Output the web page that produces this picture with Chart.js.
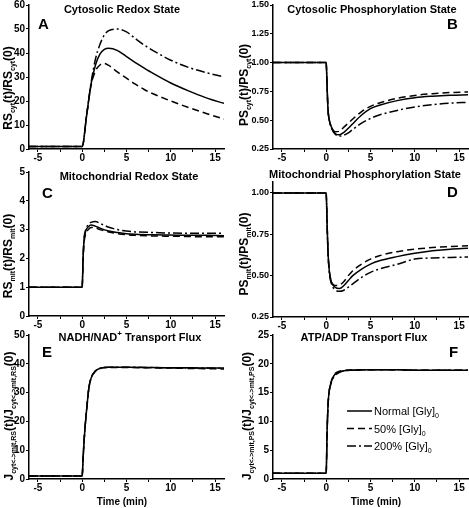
<!DOCTYPE html>
<html>
<head>
<meta charset="utf-8">
<script src="https://cdn.jsdelivr.net/npm/chart.js@4.4.0/dist/chart.umd.min.js"></script>
<style>
  html, body { margin: 0; padding: 0; background: #fff; overflow: hidden; }
  body { width: 469px; height: 508px; position: relative; }
  .panel { position: absolute; }
</style>
</head>
<body>
<script>
// ---------- data ----------
const timeTicks = [-5, -2.5, 0, 2.5, 5, 7.5, 10, 12.5, 15];

// A: cytosolic redox state
const timeA = [-6, 0, 0.5, 1, 1.5, 2, 2.5, 3, 4, 5, 6, 7, 8, 10, 12, 14, 16];
const aNormal = [1, 1, 14, 27, 35, 39.5, 41.5, 42, 41, 38.5, 36, 33.7, 31.5, 27.5, 24.2, 21.3, 19];
const aHalf   = [1, 1, 14, 26.5, 32.5, 35, 35.6, 34.8, 32, 29.5, 27, 24.8, 23, 20, 17.3, 14.8, 12.5];
const aDouble = [1, 1, 14, 27.5, 37.5, 43.5, 47.5, 49.3, 50, 48.8, 46, 43.3, 41, 37, 34, 31.8, 30];
const ticksA = [0, 10, 20, 30, 40, 50, 60];

// B: cytosolic phosphorylation state
const timeB = [-6, 0, 0.1, 0.2, 0.35, 0.6, 1, 1.5, 2, 2.5, 3, 4, 5, 6, 8, 10, 12, 14, 16];
const bNormal = [1, 1, 0.8, 0.6, 0.5, 0.44, 0.385, 0.373, 0.395, 0.43, 0.47, 0.545, 0.6, 0.63, 0.67, 0.695, 0.708, 0.716, 0.72];
const bHalf   = [1, 1, 0.8, 0.6, 0.5, 0.44, 0.4, 0.405, 0.44, 0.475, 0.51, 0.575, 0.62, 0.65, 0.69, 0.715, 0.73, 0.74, 0.745];
const bDouble = [1, 1, 0.8, 0.6, 0.5, 0.43, 0.38, 0.362, 0.37, 0.39, 0.42, 0.475, 0.515, 0.545, 0.585, 0.615, 0.635, 0.648, 0.655];
const ticksB = [0.25, 0.5, 0.75, 1, 1.25, 1.5];

// C: mitochondrial redox state
const timeC = [-6, 0, 0.1, 0.2, 0.4, 0.7, 1, 1.5, 2, 3, 4, 5, 6, 8, 10, 12, 14, 16];
const cNormal = [1, 1, 2.0, 2.6, 2.95, 3.1, 3.16, 3.12, 3.05, 2.95, 2.9, 2.86, 2.84, 2.82, 2.81, 2.8, 2.8, 2.79];
const cHalf   = [1, 1, 1.9, 2.5, 2.85, 3.0, 3.07, 3.06, 3.0, 2.92, 2.86, 2.82, 2.8, 2.78, 2.77, 2.76, 2.75, 2.75];
const cDouble = [1, 1, 2.0, 2.65, 3.0, 3.18, 3.25, 3.28, 3.22, 3.08, 3.0, 2.95, 2.92, 2.9, 2.88, 2.87, 2.87, 2.87];
const ticksC = [0, 1, 2, 3, 4, 5];

// D: mitochondrial phosphorylation state
const timeD = [-6, 0, 0.1, 0.2, 0.35, 0.6, 1, 1.5, 2, 2.5, 3, 4, 5, 6, 8, 10, 12, 14, 16];
const dNormal = [1, 1, 0.82, 0.65, 0.53, 0.46, 0.43, 0.422, 0.44, 0.47, 0.5, 0.54, 0.57, 0.59, 0.615, 0.635, 0.65, 0.66, 0.665];
const dHalf   = [1, 1, 0.82, 0.65, 0.53, 0.465, 0.44, 0.443, 0.465, 0.5, 0.53, 0.57, 0.6, 0.62, 0.645, 0.66, 0.67, 0.676, 0.68];
const dDouble = [1, 1, 0.82, 0.65, 0.52, 0.45, 0.415, 0.405, 0.412, 0.43, 0.45, 0.49, 0.52, 0.54, 0.568, 0.6, 0.607, 0.61, 0.613];
const ticksD = [0.25, 0.5, 0.75, 1];

// E: NADH/NAD+ transport flux
const timeE = [-6, 0, 0.1, 0.2, 0.3, 0.5, 0.75, 1, 1.5, 2, 3, 5, 8, 10, 12, 14, 16];
const eNormal = [1, 1, 7, 12.5, 17, 24, 31.5, 35, 37.5, 38.4, 38.8, 38.8, 38.7, 38.6, 38.6, 38.5, 38.5];
const eHalf   = [1, 1, 7, 12.5, 17, 24, 31.5, 35, 37.5, 38.4, 38.7, 38.7, 38.6, 38.5, 38.4, 38.3, 38.2];
const eDouble = [1, 1, 7, 12.5, 17, 24, 31.5, 35, 37.5, 38.4, 38.8, 38.8, 38.7, 38.6, 38.5, 38.5, 38.4];
const ticksE = [0, 10, 20, 30, 40, 50];

// F: ATP/ADP transport flux
const timeF = [-6, 0, 0.1, 0.2, 0.3, 0.5, 0.75, 1, 1.5, 2, 3, 5, 8, 10, 12, 14, 16];
const fNormal = [1, 1, 8, 12.5, 14.8, 16.5, 17.6, 18.2, 18.6, 18.8, 18.9, 18.95, 18.95, 18.9, 18.9, 18.9, 18.9];
const fHalf   = [1, 1, 8, 12.5, 14.8, 16.5, 17.7, 18.3, 18.7, 18.85, 18.95, 18.95, 18.95, 18.9, 18.9, 18.9, 18.9];
const fDouble = [1, 1, 8, 12.5, 14.7, 16.3, 17.4, 18.0, 18.5, 18.75, 18.9, 18.95, 18.95, 18.9, 18.9, 18.9, 18.9];
const ticksF = [0, 5, 10, 15, 20, 25];

const seriesNames = ['Normal [Gly]', '50% [Gly]', '200% [Gly]'];

// ---------- styles ----------
const FAM = '"Liberation Sans", Arial, sans-serif';
const MAIN = 'bold 12px ' + FAM, SUB = 'bold 7px ' + FAM;
const TITLE = 'bold 11px ' + FAM, SUP = 'bold 8px ' + FAM;
const LEG = '11px ' + FAM, LEGSUB = '7px ' + FAM;
const dashes = [[], [7, 4], [9, 3, 2, 3]];
const PAD = { l: 40, t: 20, r: 14, b: 34 };

function axisTitle(q, s) {
  return [[q, MAIN], [s, SUB, 3], ['(t)/' + q, MAIN], [s, SUB, 3], ['(0)', MAIN]];
}
function fluxTitle(s) {
  return [['J', MAIN], [s, SUB, 3], ['(t)/J', MAIN], [s, SUB, 3], ['(0)', MAIN]];
}

const panels = [
  { plot: [29, 5, 224, 149], t: timeA, s: [aNormal, aHalf, aDouble], yMin: 0, yMax: 60, yTicks: ticksA, dec: 0,
    title: [['Cytosolic Redox State', TITLE]], titleAt: [122, 12.5], letter: ['A', 38, 28.5],
    yTitle: axisTitle('RS', 'cyt'), yTitleAt: [12, 88] },
  { plot: [273, 5, 468, 149], t: timeB, s: [bNormal, bHalf, bDouble], yMin: 0.25, yMax: 1.5, yTicks: ticksB, dec: 2,
    title: [['Cytosolic Phosphorylation State', TITLE]], titleAt: [372, 12.5], letter: ['B', 447, 28.5],
    yTitle: axisTitle('PS', 'cyt'), yTitleAt: [248, 85] },
  { plot: [29, 172, 224, 316], t: timeC, s: [cNormal, cHalf, cDouble], yMin: 0, yMax: 5, yTicks: ticksC, dec: 0,
    title: [['Mitochondrial Redox State', TITLE]], titleAt: [129, 180], letter: ['C', 42, 198],
    yTitle: axisTitle('RS', 'mit'), yTitleAt: [12, 256] },
  { plot: [273, 182, 468, 317], t: timeD, s: [dNormal, dHalf, dDouble], yMin: 0.25, yMax: 1.066, yTicks: ticksD, dec: 2,
    title: [['Mitochondrial Phosphorylation State', TITLE]], titleAt: [365, 178], letter: ['D', 447, 197],
    yTitle: axisTitle('PS', 'mit'), yTitleAt: [248, 254] },
  { plot: [29, 335, 224, 479], t: timeE, s: [eNormal, eHalf, eDouble], yMin: 0, yMax: 50, yTicks: ticksE, dec: 0,
    title: [['NADH/NAD', TITLE], ['+', SUP, -5], [' Transport Flux', TITLE]], titleAt: [130, 341], letter: ['E', 42, 357],
    yTitle: fluxTitle('cyt<->mit,RS'), yTitleAt: [13, 416], xTitle: [122, 505] },
  { plot: [273, 335, 468, 479], t: timeF, s: [fNormal, fHalf, fDouble], yMin: 0, yMax: 25, yTicks: ticksF, dec: 0,
    title: [['ATP/ADP Transport Flux', TITLE]], titleAt: [364, 341], letter: ['F', 449, 357],
    yTitle: fluxTitle('cyt<->mit,PS'), yTitleAt: [251, 416], xTitle: [376, 505], legend: [347, 411, 17.5] }
];

// draws text made of pieces with different fonts / baseline shifts
function richText(ctx, parts, x, y, align, angle) {
  ctx.save();
  ctx.translate(x, y);
  if (angle) ctx.rotate(angle);
  let total = 0;
  parts.forEach(p => { ctx.font = p[1]; total += ctx.measureText(p[0]).width; });
  let cx = align === 'center' ? -total / 2 : 0;
  ctx.textAlign = 'left';
  ctx.textBaseline = 'alphabetic';
  ctx.fillStyle = '#000';
  parts.forEach(p => {
    ctx.font = p[1];
    ctx.fillText(p[0], cx, p[2] || 0);
    cx += ctx.measureText(p[0]).width;
  });
  ctx.restore();
}

function makePanel(p) {
  const ox = p.plot[0] - PAD.l, oy = p.plot[1] - PAD.t;
  const cw = p.plot[2] - p.plot[0] + PAD.l + PAD.r;
  const ch = p.plot[3] - p.plot[1] + PAD.t + PAD.b;
  const canvas = document.createElement('canvas');
  canvas.className = 'panel';
  canvas.width = cw; canvas.height = ch;
  canvas.style.left = ox + 'px'; canvas.style.top = oy + 'px';
  canvas.style.width = cw + 'px'; canvas.style.height = ch + 'px';
  document.body.appendChild(canvas);

  const decorations = {
    id: 'decorations',
    afterDraw(chart) {
      const ctx = chart.ctx;
      richText(ctx, p.title, p.titleAt[0] - ox, p.titleAt[1] - oy, 'center');
      richText(ctx, [[p.letter[0], 'bold 15px ' + FAM]], p.letter[1] - ox, p.letter[2] - oy, 'left');
      richText(ctx, p.yTitle, p.yTitleAt[0] - ox, p.yTitleAt[1] - oy, 'center', -Math.PI / 2);
      if (p.xTitle) richText(ctx, [['Time (min)', 'bold 10px ' + FAM]], p.xTitle[0] - ox, p.xTitle[1] - oy, 'center');
      if (p.legend) {
        const [lx, ly, gap] = p.legend;
        seriesNames.forEach((name, i) => {
          const y = ly + i * gap - oy;
          ctx.save();
          ctx.strokeStyle = '#000'; ctx.lineWidth = 1.5; ctx.setLineDash(dashes[i]);
          ctx.beginPath(); ctx.moveTo(lx - ox, y); ctx.lineTo(lx + 25 - ox, y); ctx.stroke();
          ctx.restore();
          richText(ctx, [[name, LEG], ['0', LEGSUB, 3]], lx + 27 - ox, y + 4, 'left');
        });
      }
    }
  };

  const axisCommon = {
    type: 'linear',
    grid: { drawOnChartArea: false, drawTicks: true, tickLength: 3, color: '#000', tickColor: '#000', tickWidth: 1 },
    border: { display: true, color: '#000', width: 1.5 },
  };

  new Chart(canvas, {
    type: 'line',
    data: {
      datasets: p.s.map((vals, i) => ({
        label: seriesNames[i],
        data: p.t.map((x, k) => ({ x: x, y: vals[k] })),
        borderColor: '#000',
        borderWidth: 1.5,
        borderDash: dashes[i],
        pointRadius: 0,
        fill: false,
        cubicInterpolationMode: 'monotone'
      }))
    },
    options: {
      responsive: false,
      animation: false,
      layout: { padding: { left: 0, top: PAD.t, right: PAD.r, bottom: 0 } },
      plugins: { legend: { display: false }, tooltip: { enabled: false } },
      scales: {
        x: Object.assign({}, axisCommon, {
          min: -6, max: 16,
          afterBuildTicks: s => { s.ticks = timeTicks.map(v => ({ value: v })); },
          afterFit: s => { s.height = PAD.b; },
          ticks: { color: '#000', font: { family: FAM, size: 10, weight: 'bold' }, padding: 0,
                   maxRotation: 0, autoSkip: false, callback: v => (v % 5 === 0 ? String(v) : '') }
        }),
        y: Object.assign({}, axisCommon, {
          min: p.yMin, max: p.yMax,
          afterBuildTicks: s => { s.ticks = p.yTicks.map(v => ({ value: v })); },
          afterFit: s => { s.width = PAD.l; },
          ticks: { color: '#000', font: { family: FAM, size: p.dec ? 9 : 10, weight: 'bold' }, padding: 1,
                   autoSkip: false, callback: v => v.toFixed(p.dec) }
        })
      }
    },
    plugins: [decorations]
  });
}

panels.forEach(makePanel);
</script>
</body>
</html>
